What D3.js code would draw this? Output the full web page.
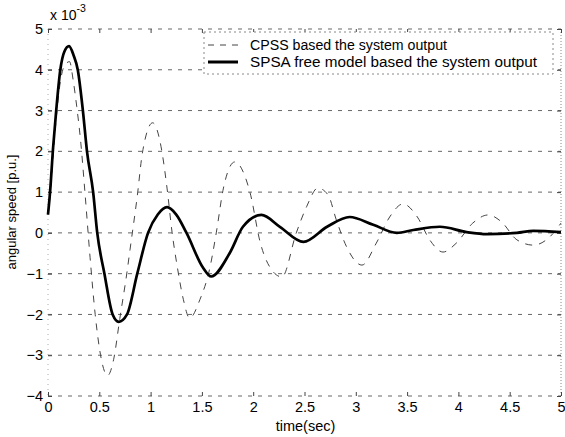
<!DOCTYPE html>
<html>
<head>
<meta charset="utf-8">
<script src="https://cdn.jsdelivr.net/npm/d3@7"></script>
<style>
  body { margin: 0; background: #fff; }
  text { font-family: "Liberation Sans", Arial, sans-serif; fill: #000; }
</style>
</head>
<body>
<div id="chart"></div>
<script>
// values (units of 1e-3 p.u.)
const xTicks = [0, 0.5, 1, 1.5, 2, 2.5, 3, 3.5, 4, 4.5, 5];
const yTicks = [-4, -3, -2, -1, 0, 1, 2, 3, 4, 5];

const spsaT = [0, 0.02, 0.05, 0.08, 0.12, 0.16, 0.205, 0.25, 0.29, 0.34, 0.38, 0.44, 0.48, 0.55, 0.63, 0.69, 0.77, 0.87, 0.975, 1.07, 1.16, 1.25, 1.35, 1.51, 1.59, 1.77, 1.9, 2.08, 2.26, 2.49, 2.72, 2.94, 3.17, 3.4, 3.56, 3.82, 4.08, 4.28, 4.57, 4.73, 5];
const spsaV = [0.45, 1.0, 2.1, 3.0, 4.0, 4.45, 4.58, 4.35, 4.0, 3.0, 2.0, 1.0, 0, -1.0, -2.0, -2.18, -2.0, -1.0, 0, 0.45, 0.63, 0.45, 0, -0.85, -1.07, -0.5, 0.15, 0.44, 0.15, -0.22, 0.15, 0.39, 0.2, 0.0, 0.07, 0.15, 0.02, -0.03, 0, 0.05, 0.02];

const cpssT = [0, 0.02, 0.05, 0.08, 0.12, 0.16, 0.21, 0.245, 0.28, 0.32, 0.36, 0.41, 0.46, 0.52, 0.58, 0.64, 0.7, 0.77, 0.8, 0.87, 0.92, 1.02, 1.11, 1.16, 1.21, 1.26, 1.32, 1.38, 1.48, 1.58, 1.64, 1.71, 1.82, 1.97, 2.07, 2.16, 2.28, 2.42, 2.52, 2.63, 2.73, 2.81, 2.91, 3.06, 3.2, 3.33, 3.46, 3.6, 3.72, 3.85, 3.98, 4.14, 4.29, 4.42, 4.57, 4.73, 4.89, 5];
const cpssV = [0.45, 0.9, 1.9, 2.8, 3.7, 4.1, 4.2, 3.75, 3.1, 2.2, 1.0, -0.6, -2.0, -3.1, -3.5, -3.1, -2.1, -0.96, -0.4, 0.9, 1.96, 2.7, 2.0, 1.1, 0, -0.83, -1.64, -2.09, -1.64, -0.83, 0, 1.1, 1.74, 0.98, -0.25, -0.83, -1.08, 0, 0.64, 1.1, 0.93, 0.32, -0.34, -0.79, -0.25, 0.39, 0.71, 0.39, -0.17, -0.47, -0.25, 0.24, 0.44, 0.27, -0.17, -0.3, -0.1, 0.24];

const legendLabels = ["CPSS based the system output", "SPSA free model based the system output"];

const width = 565, height = 437;
const plotLeft = 48, plotRight = 561, plotTop = 29, plotBottom = 396;
const font = "Liberation Sans, Arial, sans-serif";

const svg = d3.select("#chart").append("svg")
  .attr("width", width)
  .attr("height", height);

const x = d3.scaleLinear().domain([0, 5]).range([plotLeft, plotRight]);
const y = d3.scaleLinear().domain([-4, 5]).range([plotBottom, plotTop]);

// horizontal grid
svg.append("g")
  .selectAll("line")
  .data(yTicks)
  .enter().append("line")
  .attr("x1", plotLeft).attr("x2", plotRight)
  .attr("y1", d => y(d)).attr("y2", d => y(d))
  .attr("stroke", "#666")
  .attr("stroke-width", 1)
  .attr("stroke-dasharray", "4 6");

// frame sides
svg.append("line").attr("x1", plotLeft).attr("x2", plotLeft).attr("y1", plotTop).attr("y2", plotBottom)
  .attr("stroke", "#aaa").attr("stroke-dasharray", "1 4");
svg.append("line").attr("x1", plotRight).attr("x2", plotRight).attr("y1", plotTop).attr("y2", plotBottom)
  .attr("stroke", "#888").attr("stroke-dasharray", "1 2");

// axes, ticks pointing inward
const yAxis = svg.append("g").attr("transform", `translate(${plotLeft},0)`)
  .call(d3.axisLeft(y).tickValues(yTicks).tickSize(-4).tickPadding(5).tickFormat(d3.format("d")));
const xAxis = svg.append("g").attr("transform", `translate(0,${plotBottom})`)
  .call(d3.axisBottom(x).tickValues(xTicks).tickSize(-4).tickPadding(6).tickFormat(d => d));
svg.append("g").attr("transform", `translate(0,${plotTop})`)
  .call(d3.axisTop(x).tickValues(xTicks).tickSize(-4).tickFormat(""));
svg.append("g").attr("transform", `translate(${plotRight},0)`)
  .call(d3.axisRight(y).tickValues(yTicks).tickSize(-4).tickFormat(""));

svg.selectAll(".domain").remove();
svg.selectAll(".tick line").attr("stroke", "#444");
yAxis.selectAll("text").attr("font-size", 14.5).attr("font-family", font);
xAxis.selectAll("text").attr("font-size", 14.5).attr("font-family", font);

// exponent
const expo = svg.append("text").attr("x", 50).attr("y", 20).attr("font-size", 14);
expo.append("tspan").text("x 10");
expo.append("tspan").attr("dy", -8).attr("font-size", 10.5).text("-3");

// axis labels
svg.append("text")
  .attr("x", (plotLeft + plotRight) / 2 + 1).attr("y", 431)
  .attr("text-anchor", "middle")
  .attr("font-size", 14.5)
  .text("time(sec)");

svg.append("text")
  .attr("transform", `translate(16,${212}) rotate(-90)`)
  .attr("text-anchor", "middle")
  .attr("font-size", 13)
  .text("angular speed [p.u.]");

// curves
const line = d3.line()
  .x(d => x(d[0]))
  .y(d => y(d[1]))
  .curve(d3.curveMonotoneX);

const cpss = cpssT.map((t, i) => [t, cpssV[i]]);
const spsa = spsaT.map((t, i) => [t, spsaV[i]]);

svg.append("path")
  .datum(cpss)
  .attr("fill", "none")
  .attr("stroke", "#444")
  .attr("stroke-width", 1)
  .attr("stroke-dasharray", "7 7")
  .attr("d", line);

svg.append("path")
  .datum(spsa)
  .attr("fill", "none")
  .attr("stroke", "#000")
  .attr("stroke-width", 2.7)
  .attr("d", line);

// legend
const lg = svg.append("g");
lg.append("rect")
  .attr("x", 204).attr("y", 32)
  .attr("width", 349).attr("height", 42)
  .attr("fill", "#fff")
  .attr("stroke", "#888")
  .attr("stroke-dasharray", "2 3");

lg.append("line").attr("x1", 208).attr("x2", 238).attr("y1", 45).attr("y2", 45)
  .attr("stroke", "#444").attr("stroke-width", 1).attr("stroke-dasharray", "6 6");
lg.append("line").attr("x1", 208).attr("x2", 238).attr("y1", 62).attr("y2", 62)
  .attr("stroke", "#000").attr("stroke-width", 3);

lg.selectAll("text.lbl")
  .data(legendLabels)
  .enter().append("text")
  .attr("class", "lbl")
  .attr("x", 250)
  .attr("y", (d, i) => 49.5 + i * 17)
  .attr("font-size", 14)
  .attr("textLength", (d, i) => i === 0 ? 197 : 287)
  .attr("lengthAdjust", "spacingAndGlyphs")
  .text(d => d);
</script>
</body>
</html>
